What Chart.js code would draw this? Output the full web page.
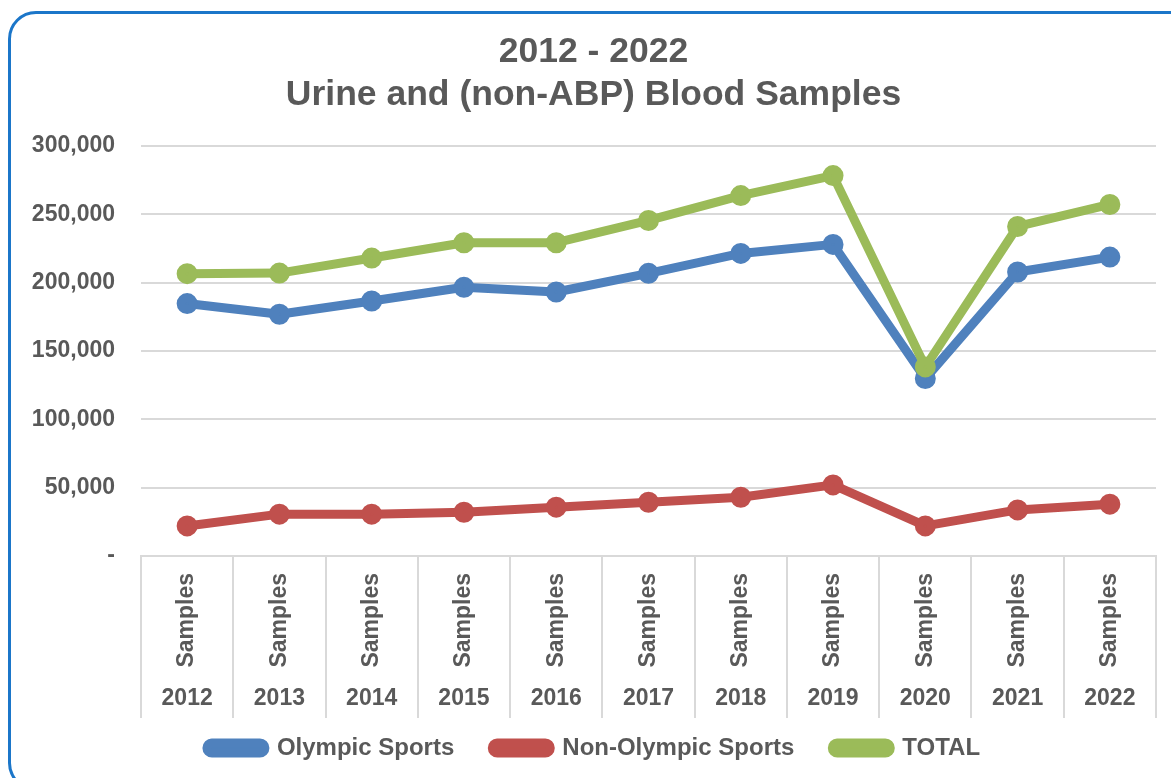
<!DOCTYPE html>
<html><head><meta charset="utf-8">
<script src="https://cdn.jsdelivr.net/npm/chart.js@4.4.0/dist/chart.umd.min.js"></script>
<style>
html,body{margin:0;padding:0;background:#fff;overflow:hidden;width:1171px;height:778px;}
#wrap{position:relative;width:1171px;height:778px;overflow:hidden;}
#frame{position:absolute;left:8px;top:11px;width:1200px;height:780px;border:3px solid #1b76c9;border-radius:28px;box-sizing:border-box;pointer-events:none;}
canvas{position:absolute;left:0;top:0;}
</style></head><body>
<div id="wrap"><canvas id="c" width="1171" height="778"></canvas><div id="frame"></div></div>
<script>
const years = ['2012','2013','2014','2015','2016','2017','2018','2019','2020','2021','2022'];
const sampleLabels = ['Samples','Samples','Samples','Samples','Samples','Samples','Samples','Samples','Samples','Samples','Samples'];
const olympic    = [184600, 176800, 186500, 196500, 193100, 206700, 221300, 227900, 129800, 207700, 218600];
const nonOlympic = [22000, 30600, 30600, 32000, 35700, 39300, 43000, 52000, 22000, 33700, 37900];
const total      = [206500, 206900, 217900, 229100, 229100, 245400, 263600, 278200, 138300, 241000, 257100];
const yTicks = [0, 50000, 100000, 150000, 200000, 250000, 300000];
const titleLines = ['2012 - 2022', 'Urine and (non-ABP) Blood Samples'];

const FONT = "'Liberation Sans', Arial, sans-serif";
const GREY = '#595959';
const GRID = '#d9d9d9';
const PAD_LEFT = 30;

function line(label, data, color, order) {
  return {
    label, data, order,
    borderColor: color, backgroundColor: color,
    pointBackgroundColor: color, pointBorderColor: color,
    borderWidth: 9, pointRadius: 6, pointHoverRadius: 6,
    borderJoinStyle: 'round', borderCapStyle: 'round',
    tension: 0, fill: false
  };
}

// Move the legend row up a little so the wide item spacing does not push it too low
const legendShift = {
  id: 'legendShift',
  afterLayout(chart) {
    const lg = chart.legend;
    if (lg) { lg.top -= 20; lg.bottom -= 20; }
  }
};

new Chart(document.getElementById('c'), {
  type: 'line',
  data: {
    labels: years,
    datasets: [
      line('Olympic Sports', olympic, '#4f81bd', 2),
      line('Non-Olympic Sports', nonOlympic, '#c0504d', 1),
      line('TOTAL', total, '#9bbb59', 0)
    ]
  },
  plugins: [legendShift],
  options: {
    responsive: false,
    animation: false,
    events: [],
    layout: { padding: { left: PAD_LEFT, right: 14, top: 0, bottom: -12 } },
    plugins: {
      tooltip: { enabled: false },
      title: {
        display: true,
        text: titleLines,
        color: GREY,
        font: { family: FONT, size: 35.5, weight: 'bold', lineHeight: 1.2 },
        padding: { top: 31, bottom: 29.6 }
      },
      legend: {
        position: 'bottom',
        labels: {
          color: GREY,
          font: { family: FONT, size: 24, weight: 'bold' },
          boxWidth: 58, boxHeight: 10,
          useBorderRadius: true, borderRadius: 5,
          padding: 38,
          sort: (a, b) => a.datasetIndex - b.datasetIndex
        }
      }
    },
    scales: {
      x: {
        type: 'category',
        position: 'bottom',
        offset: true,
        grid: { offset: true, drawOnChartArea: false, drawTicks: true, tickLength: 115, color: GRID, lineWidth: 2 },
        border: { display: true, color: GRID, width: 2 },
        ticks: {
          autoSkip: false, minRotation: 90, maxRotation: 90, padding: -98,
          color: GREY, font: { family: FONT, size: 23, weight: 'bold' },
          callback: (v, i) => sampleLabels[i]
        },
        afterFit: s => { s.height = 115; }
      },
      x2: {
        type: 'category',
        position: 'bottom',
        labels: years,
        offset: true,
        grid: { offset: true, drawOnChartArea: false, drawTicks: true, tickLength: 47, color: GRID, lineWidth: 2 },
        border: { display: false },
        ticks: {
          autoSkip: false, maxRotation: 0, minRotation: 0, padding: -33,
          color: GREY, font: { family: FONT, size: 23, weight: 'bold' }
        },
        afterFit: s => { s.height = 47; }
      },
      y: {
        min: 0, max: 300000,
        grid: { drawTicks: false, color: GRID, lineWidth: 2 },
        border: { display: false },
        afterBuildTicks: s => { s.ticks = yTicks.map(v => ({ value: v })); },
        ticks: {
          padding: 26,
          color: GREY, font: { family: FONT, size: 23, weight: 'bold' },
          callback: v => v === 0 ? '-' : v.toLocaleString('en-US')
        },
        afterFit: s => { s.width = 141 - PAD_LEFT; }
      }
    }
  }
});
</script>
</body></html>
